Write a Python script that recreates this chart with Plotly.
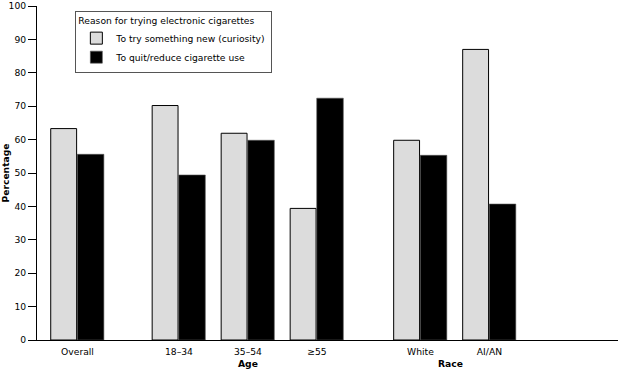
import plotly.graph_objects as go

categories = ["Overall", "18–34", "35–54", "≥55", "White", "AI/AN"]
curiosity = [63.3, 70.2, 61.9, 39.4, 59.8, 87.0]
quit_reduce = [55.6, 49.4, 59.8, 72.4, 55.3, 40.7]
group_labels = ["Age", "Race"]
y_ticks = list(range(0, 101, 10))

# layout positions for categories (gaps between groups)
xpos = [0, 1.47, 2.47, 3.47, 4.97, 5.97]
group_pos = [2.47, 5.41]

FONT = "DejaVu Sans"
FS = 9.2
fig = go.Figure()
fig.add_trace(go.Bar(
    x=xpos, y=curiosity, name="To try something new (curiosity)",
    marker=dict(color="#dcdcdc", line=dict(color="#000000", width=1)),
    width=0.375, offset=-0.388,
))
fig.add_trace(go.Bar(
    x=xpos, y=quit_reduce, name="To quit/reduce cigarette use",
    marker=dict(color="#000000", line=dict(color="#555555", width=0.6)),
    width=0.385, offset=-0.003,
))

for g, p in zip(group_labels, group_pos):
    fig.add_annotation(x=p, y=0, xref="x", yref="paper", yshift=-31,
                       text="<b>" + g + "</b>", showarrow=False,
                       font=dict(family=FONT, size=FS, color="#000"))

fig.update_layout(
    width=618, height=372,
    margin=dict(l=37, r=0, t=6, b=32),
    plot_bgcolor="white", paper_bgcolor="white",
    barmode="overlay",
    font=dict(family=FONT, size=FS, color="#000"),
    showlegend=True,
    legend=dict(
        title=dict(text="Reason for trying electronic cigarettes", font=dict(size=FS)),
        x=0.066, y=0.986, xanchor="left", yanchor="top",
        bordercolor="#555", borderwidth=1, bgcolor="white",
        font=dict(size=FS), tracegroupgap=0,
    ),
    xaxis=dict(
        range=[-0.587, 7.833], tickmode="array", tickvals=xpos, ticktext=categories,
        showline=True, linecolor="#000", linewidth=1, ticks="", showgrid=False,
        zeroline=False, tickfont=dict(size=FS), ticklabelstandoff=3, automargin=False,
    ),
    yaxis=dict(
        range=[0, 100], tickmode="array", tickvals=y_ticks,
        showline=True, linecolor="#000", linewidth=1, ticks="outside", ticklen=8,
        tickcolor="#000", showgrid=False, zeroline=False, automargin=False,
        title=dict(text="<b>Percentage</b>", standoff=6, font=dict(size=FS)),
        tickfont=dict(size=FS),
    ),
)
fig.write_html("out.html", post_script="document.body.style.margin='0px';",
               config={"displayModeBar": False})
